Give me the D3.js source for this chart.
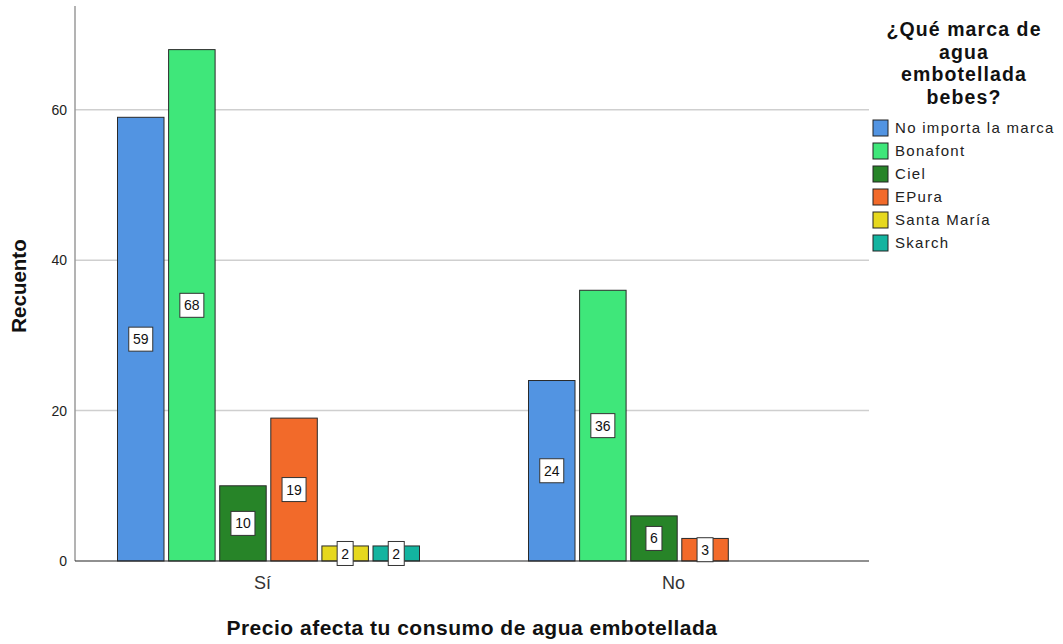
<!DOCTYPE html>
<html>
<head>
<meta charset="utf-8">
<script src="https://cdn.jsdelivr.net/npm/d3@7"></script>
<style>
  body { margin: 0; background: #fff; }
  text { font-family: "Liberation Sans", Arial, sans-serif; }
</style>
</head>
<body>
<svg id="chart" width="1063" height="644"></svg>
<script>
// Counts of preferred bottled-water brand, split by whether price affects consumption
const groups = ["Sí", "No"];
const brands = ["No importa la marca", "Bonafont", "Ciel", "EPura", "Santa María", "Skarch"];
const countsSi = [59, 68, 10, 19, 2, 2];
const countsNo = [24, 36, 6, 3, 0, 0];
const yTicks = [0, 20, 40, 60];
const colors = ["#5294e2", "#3fe77a", "#278428", "#f26a2a", "#e6d81e", "#13b4a0"];

const svg = d3.select("#chart");

const plotLeft = 75, plotRight = 869, plotTop = 6, plotBottom = 561;

const y = d3.scaleLinear().domain([0, 73.8]).range([plotBottom, plotTop]);
const x0 = d3.scaleBand().domain(groups).range([63, 885]).padding(0);
const x1 = d3.scaleBand().domain(brands).range([0, 302]).paddingInner(0.09).paddingOuter(0);
const color = d3.scaleOrdinal().domain(brands).range(colors);

const data = [];
groups.forEach((g, gi) => {
  const vals = gi === 0 ? countsSi : countsNo;
  brands.forEach((b, bi) => data.push({ group: g, brand: b, value: vals[bi] }));
});

// Gridlines
svg.append("g")
  .selectAll("line")
  .data(yTicks.filter(t => t > 0))
  .join("line")
  .attr("x1", plotLeft).attr("x2", plotRight)
  .attr("y1", d => y(d)).attr("y2", d => y(d))
  .attr("stroke", "#cfcfcf").attr("stroke-width", 1.5);

// Y axis
const yAxis = svg.append("g")
  .attr("transform", `translate(${plotLeft},0)`)
  .call(d3.axisLeft(y).tickValues(yTicks).tickSize(0).tickPadding(8).tickFormat(d3.format("d")));
yAxis.select(".domain").remove();
yAxis.selectAll("text").attr("font-size", 14).attr("fill", "#222")
  .style("font-family", "'Liberation Sans', Arial, sans-serif");
svg.append("line")
  .attr("x1", plotLeft).attr("x2", plotLeft)
  .attr("y1", plotTop).attr("y2", plotBottom)
  .attr("stroke", "#9a9a9a").attr("stroke-width", 1.5);

// Bars
const barG = svg.append("g");
const bars = data.filter(d => d.value > 0);
const groupOffset = g => x0(g) + x0.bandwidth() / 2 - 151;

barG.selectAll("rect")
  .data(bars)
  .join("rect")
  .attr("x", d => groupOffset(d.group) + x1(d.brand))
  .attr("width", x1.bandwidth())
  .attr("y", d => y(d.value))
  .attr("height", d => y(0) - y(d.value))
  .attr("fill", d => color(d.brand))
  .attr("stroke", "#2a2a2a").attr("stroke-width", 1);

// X axis baseline
svg.append("line")
  .attr("x1", plotLeft).attr("x2", plotRight)
  .attr("y1", plotBottom).attr("y2", plotBottom)
  .attr("stroke", "#222").attr("stroke-width", 1.2);

// Value labels in white boxes at mid-height
const lab = svg.append("g").selectAll("g")
  .data(bars)
  .join("g")
  .attr("transform", d => `translate(${groupOffset(d.group) + x1(d.brand) + x1.bandwidth() / 2},${y(d.value / 2)})`);
lab.append("rect")
  .attr("x", d => d.value >= 10 ? -12 : -8)
  .attr("width", d => d.value >= 10 ? 24 : 16)
  .attr("y", -12).attr("height", 24)
  .attr("fill", "#fff").attr("stroke", "#333").attr("stroke-width", 1);
lab.append("text")
  .attr("text-anchor", "middle").attr("dy", "0.36em")
  .attr("font-size", 14).attr("fill", "#111")
  .text(d => d.value);

// Category labels
svg.append("g").selectAll("text")
  .data(groups)
  .join("text")
  .attr("x", d => x0(d) + x0.bandwidth() / 2 - 6)
  .attr("y", 589)
  .attr("text-anchor", "middle")
  .attr("font-size", 18).attr("fill", "#333")
  .text(d => d);

// Axis titles
svg.append("text")
  .attr("x", 472).attr("y", 635)
  .attr("text-anchor", "middle")
  .attr("font-size", 21).attr("font-weight", "bold").attr("fill", "#111")
  .attr("letter-spacing", 0.5)
  .text("Precio afecta tu consumo de agua embotellada");
svg.append("text")
  .attr("transform", "translate(26,286) rotate(-90)")
  .attr("text-anchor", "middle")
  .attr("font-size", 20.5).attr("font-weight", "bold").attr("fill", "#111")
  .text("Recuento");

// Legend
const legendTitle = ["¿Qué marca de", "agua", "embotellada", "bebes?"];
svg.append("g").selectAll("text")
  .data(legendTitle)
  .join("text")
  .attr("x", 964)
  .attr("y", (d, i) => 36 + i * 22.5)
  .attr("text-anchor", "middle")
  .attr("font-size", 19.5).attr("font-weight", "bold").attr("fill", "#111")
  .attr("letter-spacing", 1.1)
  .text(d => d);

const leg = svg.append("g").selectAll("g")
  .data(brands)
  .join("g")
  .attr("transform", (d, i) => `translate(873,${120 + i * 23})`);
leg.append("rect")
  .attr("width", 15).attr("height", 16)
  .attr("fill", d => color(d))
  .attr("stroke", "#222").attr("stroke-width", 1);
leg.append("text")
  .attr("x", 22).attr("y", 8).attr("dy", "0.36em")
  .attr("font-size", 15).attr("fill", "#222")
  .attr("letter-spacing", 1.3)
  .text(d => d);
</script>
</body>
</html>
